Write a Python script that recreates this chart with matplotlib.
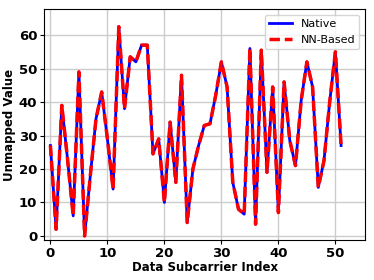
import matplotlib
matplotlib.use('Agg')
import matplotlib.pyplot as plt
import numpy as np

# unmapped values per data subcarrier
subcarrier = np.arange(52)
native = [27, 2, 39, 23, 6, 49, 0, 18, 35, 43,
          29, 14, 62.5, 38, 53.5, 52, 57, 57, 24.5, 29,
          10, 34, 16, 48, 4, 20, 27, 33, 33.5, 42,
          52, 44.5, 16, 8, 6.5, 56, 3.5, 55.5, 19, 44.5,
          7, 46, 28.5, 21, 40.5, 52, 44.5, 14.5, 22.5, 40,
          55, 27]
nn_based = list(native)

fig = plt.figure(figsize=(3.74, 2.8), dpi=100)
ax = fig.add_axes([0.118, 0.143, 0.858, 0.825])

ax.plot(subcarrier, native, color='blue', lw=2.0, label='Native')
ax.plot(subcarrier, nn_based, color='red', lw=2.5, ls=(0, (3.0, 1.4)), label='NN-Based')

ax.set_xlim(-1.1, 55.2)
ax.set_ylim(-1.2, 67.8)
ax.set_xticks([0, 10, 20, 30, 40, 50])
ax.set_yticks([0, 10, 20, 30, 40, 50, 60])
ax.grid(True, color='#cccccc', lw=1)
ax.set_axisbelow(True)

for lab in ax.get_xticklabels() + ax.get_yticklabels():
    lab.set_fontweight('bold')
    lab.set_fontsize(9.5)
ax.set_xlabel('Data Subcarrier Index', fontweight='bold', fontsize=8.5, labelpad=1)
ax.set_ylabel('Unmapped Value', fontweight='bold', fontsize=8.5, labelpad=2)
ax.tick_params(length=3, pad=2)

ax.legend(loc='upper right', fontsize=8)

fig.savefig('out.png', dpi=100)
